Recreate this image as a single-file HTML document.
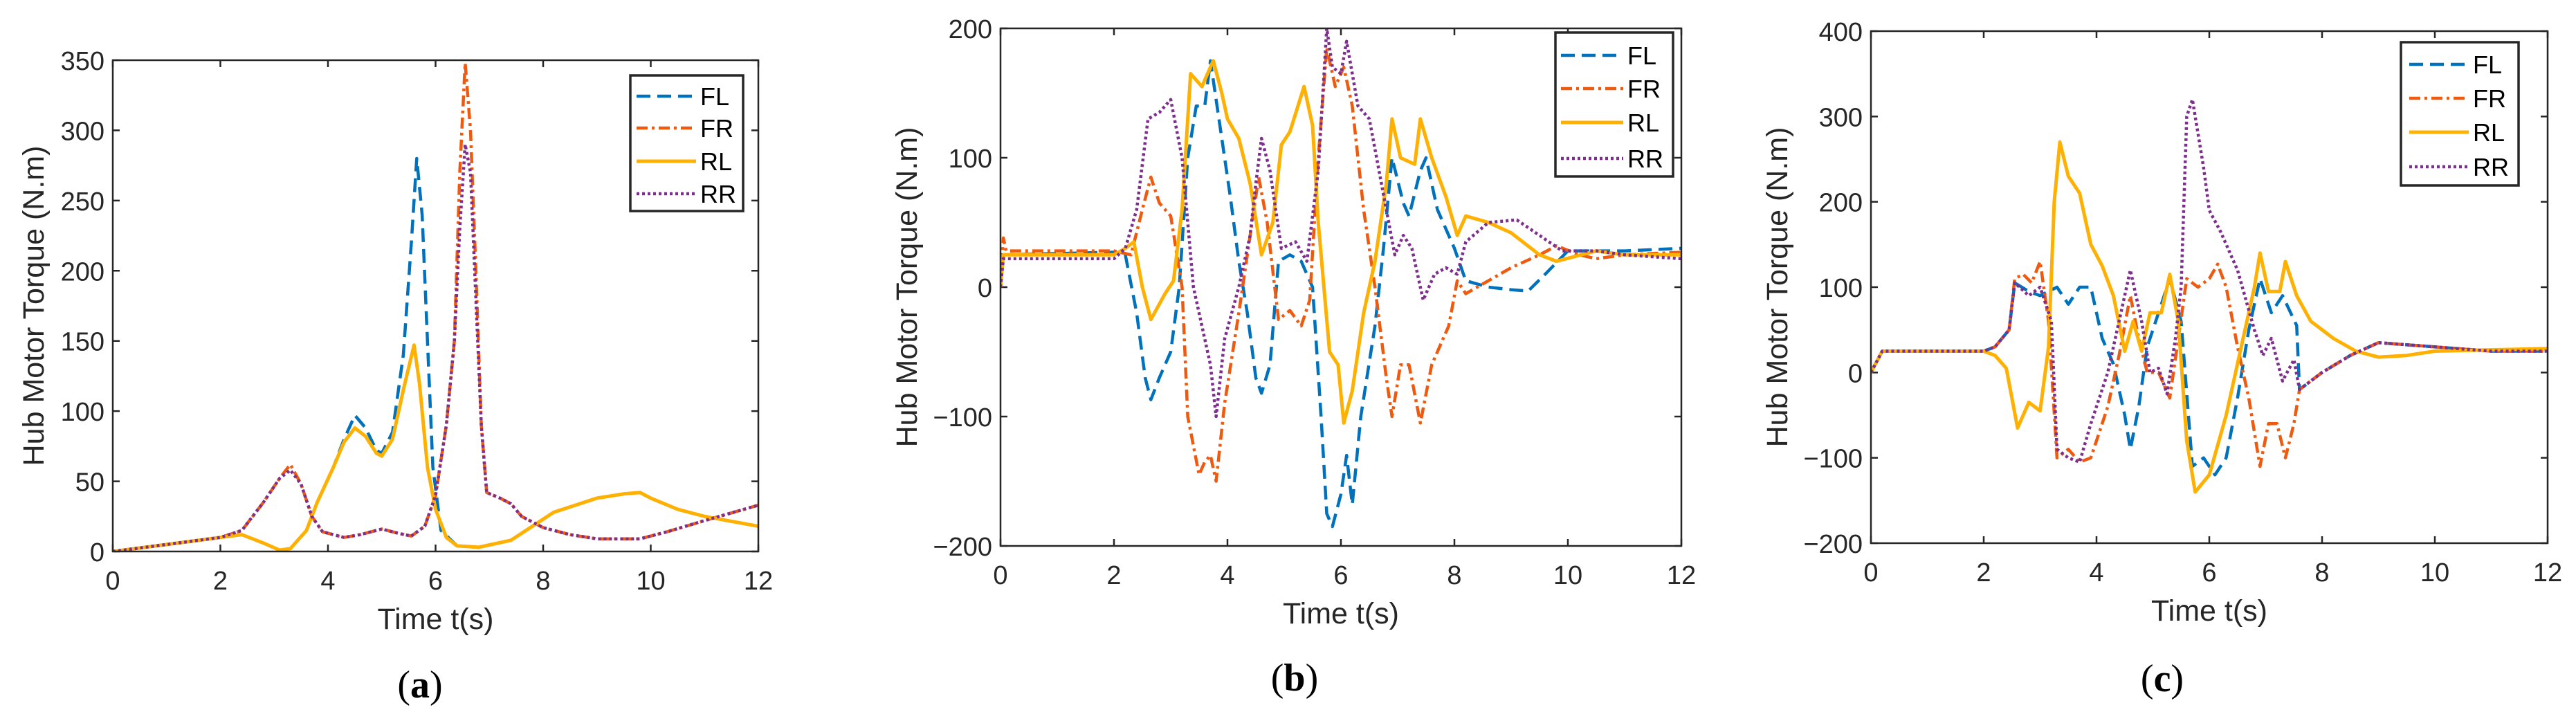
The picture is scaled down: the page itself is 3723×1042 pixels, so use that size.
<!DOCTYPE html>
<html><head><meta charset="utf-8"><style>
body{margin:0;background:#fff;}
svg{display:block;font-family:"Liberation Sans",sans-serif;}
</style></head><body>
<svg id="fig" width="3723" height="1042" viewBox="0 0 3723 1042" xmlns="http://www.w3.org/2000/svg"></svg>
<script>
// ---- Panel (a) data ----
const aFLt=[0,1,2,2.4,2.8,3.1,3.3,3.6,3.8,4.1,4.3,4.5,4.7,4.9,5.0,5.2,5.4,5.55,5.65,5.75,5.85,5.95,6.1,6.4,6.8,7.4,7.8,8.2,9,9.5,9.8,10,10.5,11,12];
const aFLv=[0,5,10,12,6,1,2,15,35,60,80,97,88,72,70,85,140,220,280,240,150,60,15,4,3,8,18,28,38,41,42,38,30,25,18];
const aFRt=[0,1,2,2.4,2.8,3.1,3.3,3.5,3.7,3.9,4.3,4.6,5.0,5.3,5.55,5.8,6.0,6.2,6.35,6.45,6.55,6.65,6.75,6.85,6.95,7.2,7.4,7.6,8,8.5,9,9.8,10.3,11,12];
const aFRv=[0,5,10,15,35,52,62,48,25,14,10,12,16,13,11,18,40,90,150,270,348,300,200,90,42,38,34,25,17,12,9,9,14,22,33];
const aRLt=[0,1,2,2.4,2.8,3.1,3.3,3.6,3.8,4.1,4.3,4.5,4.7,4.9,5.0,5.2,5.4,5.6,5.7,5.85,6.0,6.2,6.4,6.8,7.4,7.8,8.2,9,9.5,9.8,10,10.5,11,12];
const aRLv=[0,5,10,12,6,1,2,15,35,60,78,88,82,70,68,80,115,147,120,60,30,10,4,3,8,18,28,38,41,42,38,30,25,18];
const aRRt=[0,1,2,2.4,2.8,3.1,3.3,3.5,3.7,3.9,4.3,4.6,5.0,5.3,5.55,5.8,6.0,6.2,6.35,6.45,6.55,6.65,6.75,6.85,6.95,7.2,7.4,7.6,8,8.5,9,9.8,10.3,11,12];
const aRRv=[0,5,10,15,35,52,58,48,25,14,10,12,16,13,11,18,40,90,150,230,290,270,180,90,42,38,34,25,17,12,9,9,14,22,33];
const aYTicks=[0,50,100,150,200,250,300,350];
// ---- Panel (b) data ----
const bFLt=[0,2,2.2,2.4,2.55,2.65,2.8,3.0,3.15,3.3,3.45,3.6,3.7,3.8,3.95,4.05,4.2,4.35,4.5,4.6,4.75,4.9,5.1,5.3,5.5,5.65,5.75,5.85,6.0,6.1,6.2,6.35,6.6,6.75,6.9,7.1,7.2,7.4,7.5,7.7,8,8.2,8.6,9,9.3,9.6,10,11,12];
const bFLv=[25,27,25,-20,-70,-87,-70,-50,0,100,140,140,175,145,100,70,20,-20,-70,-82,-60,20,25,20,0,-100,-175,-185,-160,-130,-168,-100,-30,30,100,65,55,90,100,60,30,5,0,-2,-3,10,28,28,30];
const bFRt=[0,0.05,0.1,2,2.3,2.5,2.65,2.8,3.0,3.2,3.3,3.5,3.6,3.7,3.8,3.95,4.2,4.4,4.55,4.7,4.9,5.1,5.3,5.45,5.6,5.75,5.9,6.05,6.2,6.4,6.6,6.8,6.9,7.05,7.2,7.4,7.6,7.9,8.05,8.2,8.6,9,9.5,9.8,10.2,10.5,11,12];
const bFRv=[0,38,28,28,25,60,85,65,55,0,-100,-145,-135,-130,-150,-90,-20,40,85,50,-25,-18,-30,-10,100,185,155,170,140,60,0,-70,-100,-60,-60,-105,-60,-30,5,-5,5,15,25,32,25,22,25,27];
const bRLt=[0,0.05,2,2.2,2.35,2.5,2.65,2.9,3.05,3.2,3.35,3.55,3.75,3.9,4.0,4.2,4.4,4.6,4.8,4.95,5.1,5.35,5.5,5.6,5.8,5.95,6.05,6.2,6.4,6.6,6.8,6.9,7.05,7.3,7.4,7.6,7.85,8.05,8.2,8.6,9,9.5,9.8,10.5,11,12];
const bRLv=[0,25,25,30,35,0,-25,-5,5,60,165,155,175,150,130,115,80,25,50,110,120,155,125,50,-50,-60,-105,-80,-20,20,80,130,100,95,130,100,70,40,55,50,42,25,20,28,25,25];
const bRRt=[0,0.05,2,2.2,2.4,2.6,2.8,3.0,3.2,3.4,3.55,3.7,3.8,3.95,4.2,4.4,4.5,4.6,4.75,4.95,5.2,5.4,5.6,5.75,5.85,6.0,6.1,6.3,6.5,6.8,6.95,7.1,7.25,7.45,7.65,7.85,8.05,8.2,8.6,9.1,9.5,9.9,10.5,11,12];
const bRRv=[0,22,22,30,60,130,135,145,100,0,-30,-60,-100,-40,0,40,80,115,90,30,35,20,90,200,170,165,190,140,130,60,25,40,30,-10,10,15,10,35,50,52,40,28,28,25,22];
const bYTicks=[-200,-100,0,100,200];
// ---- Panel (c) data ----
const cFLt=[0,0.2,2,2.2,2.45,2.55,2.8,3.0,3.3,3.5,3.7,3.9,4.1,4.3,4.5,4.6,4.75,4.9,5.1,5.3,5.5,5.7,5.9,6.1,6.3,6.5,6.7,6.9,7.1,7.3,7.55,7.6,8,8.5,9,10,11,12];
const cFLv=[0,25,25,30,50,105,95,90,100,80,100,100,40,10,-50,-90,-40,30,70,110,60,-110,-100,-120,-100,-30,50,110,70,90,55,-20,0,20,35,30,25,25];
const cFRt=[0,0.2,2,2.2,2.45,2.55,2.7,2.85,3.0,3.15,3.3,3.5,3.7,3.9,4.2,4.4,4.6,4.75,4.9,5.1,5.3,5.45,5.6,5.8,6.0,6.15,6.3,6.5,6.7,6.9,7.05,7.2,7.35,7.5,7.6,8,8.5,9,10,11,12];
const cFRv=[0,25,25,30,50,110,115,105,130,60,-100,-90,-105,-100,-40,20,90,40,0,0,-30,40,110,100,110,127,100,30,-30,-110,-60,-60,-100,-60,-20,0,20,35,30,25,25];
const cRLt=[0,0.2,2,2.2,2.4,2.6,2.8,3.0,3.15,3.25,3.35,3.5,3.7,3.9,4.1,4.3,4.5,4.65,4.8,4.95,5.15,5.3,5.45,5.6,5.75,6.0,6.3,6.6,6.8,6.9,7.05,7.25,7.35,7.55,7.8,8.2,8.6,9,9.5,10,12];
const cRLv=[0,25,25,20,5,-65,-35,-45,30,200,270,230,210,150,125,90,25,60,25,70,70,115,60,-80,-140,-120,-50,40,100,140,95,95,130,90,60,40,25,18,20,25,28];
const cRRt=[0,0.2,2,2.2,2.45,2.55,2.8,3.0,3.2,3.3,3.5,3.7,3.9,4.2,4.4,4.6,4.8,4.95,5.1,5.25,5.4,5.5,5.6,5.7,5.9,6.0,6.2,6.5,6.8,6.95,7.1,7.3,7.5,7.6,8,8.5,9,10,11,12];
const cRRv=[0,25,25,30,50,105,90,100,60,-90,-100,-105,-60,0,60,120,60,0,5,-25,40,100,300,320,240,190,165,120,50,20,40,-10,15,-20,0,20,35,30,25,25];
const cYTicks=[-200,-100,0,100,200,300,400];
const xTicks=[0,2,4,6,8,10,12];
const seriesNames=['FL','FR','RL','RR'];

const NS='http://www.w3.org/2000/svg';
const svg=document.getElementById('fig');
const colors={FL:'#0072BD',FR:'#F05A0F',RL:'#FFB000',RR:'#7E2F8E'};
const dashes={FL:'20,10',FR:'16,6,4,6',RL:'',RR:'4,4'};
function mk(tag,attrs,parent){const e=document.createElementNS(NS,tag);for(const k in attrs)e.setAttribute(k,attrs[k]);(parent||svg).appendChild(e);return e;}

function panel(cfg){
  const g=mk('g',{});
  
  
  const X=t=>cfg.L+(t-0)/12*(cfg.R-cfg.L);
  const Y=v=>cfg.B-(v-cfg.ymin)/(cfg.ymax-cfg.ymin)*(cfg.B-cfg.T);
  const clip=mk('clipPath',{id:'clip'+cfg.id},g);
  mk('rect',{x:cfg.L,y:cfg.T,width:cfg.R-cfg.L,height:cfg.B-cfg.T},clip);
  xTicks.forEach(t=>{
    const x=X(t);
    const tk=mk('path',{d:`M${x},${cfg.B}v-10M${x},${cfg.T}v10`,stroke:'#262626','stroke-width':2.5},g);
    
    
    const tl=mk('text',{x:x,y:cfg.B+55,'text-anchor':'middle','font-size':38,fill:'#262626'},g);
    tl.textContent=t;
    
    
  });
  cfg.yticks.forEach(v=>{
    const y=Y(v);
    const tk=mk('path',{d:`M${cfg.L},${y}h10M${cfg.R},${y}h-10`,stroke:'#262626','stroke-width':2.5},g);
    
    
    const tl=mk('text',{x:cfg.L-12,y:y+14,'text-anchor':'end','font-size':38,fill:'#262626'},g);
    tl.textContent=v<0?'\u2212'+(-v):v;
    
    
  });
  const lg=mk('g',{'clip-path':`url(#clip${cfg.id})`},g);
  seriesNames.forEach(n=>{
    const ts=cfg.data[n][0],vs=cfg.data[n][1];
    let d='';ts.forEach((t,i)=>{d+=(i?'L':'M')+X(t).toFixed(1)+','+Y(vs[i]).toFixed(1);});
    const p=mk('path',{d:d,fill:'none',stroke:colors[n],'stroke-width':n==='RL'?5:4.5,'stroke-dasharray':dashes[n],'stroke-linejoin':'round'},lg);
    
    
  });
  const box=mk('rect',{x:cfg.L,y:cfg.T,width:cfg.R-cfg.L,height:cfg.B-cfg.T,fill:'none',stroke:'#262626','stroke-width':2.5},g);
  
  
  const lgd=mk('g',{},g);
  
  
  mk('rect',{x:cfg.lg.x,y:cfg.lg.y,width:cfg.lg.w,height:cfg.lg.h,fill:'#fff',stroke:'#262626','stroke-width':3.5},lgd);
  seriesNames.forEach((n,i)=>{
    const y=cfg.lg.rows[i];
    const e=mk('g',{},lgd);
    
    
    mk('line',{x1:cfg.lg.l1,x2:cfg.lg.l2,y1:y,y2:y,stroke:colors[n],'stroke-width':n==='RL'?5:4.5,'stroke-dasharray':dashes[n]},e);
    const t=mk('text',{x:cfg.lg.tx,y:y+13,'font-size':36,fill:'#000'},e);
    t.textContent=n;
  });
  const xl=mk('text',{x:(cfg.L+cfg.R)/2,y:cfg.B+112,'text-anchor':'middle','font-size':43,fill:'#262626'},g);
  xl.textContent='Time t(s)';
  
  
  const yl=mk('text',{x:0,y:0,'text-anchor':'middle','font-size':43,fill:'#262626',transform:`translate(${cfg.ylx},${(cfg.T+cfg.B)/2}) rotate(-90)`},g);
  yl.textContent='Hub Motor Torque (N.m)';
  
  
  const cap=mk('text',{x:cfg.capx,y:cfg.capy,'text-anchor':'middle','font-size':56,'font-family':'"Liberation Serif",serif',fill:'#000'},g);
  cap.innerHTML='(<tspan font-weight="bold">'+cfg.id+'</tspan>)';
  
  
}

panel({id:'a',L:163,R:1096,T:87,B:797,ymin:0,ymax:350,yticks:aYTicks,ylx:63,capx:607,capy:1008,
  data:{FL:[aFLt,aFLv],FR:[aFRt,aFRv],RL:[aRLt,aRLv],RR:[aRRt,aRRv]},
  lg:{x:911,y:109,w:163,h:196,rows:[139,185,233,280],l1:920,l2:1006,tx:1012}});
panel({id:'b',L:1446,R:2430,T:41,B:789,ymin:-200,ymax:200,yticks:bYTicks,ylx:1325,capx:1871,capy:998,
  data:{FL:[bFLt,bFLv],FR:[bFRt,bFRv],RL:[bRLt,bRLv],RR:[bRRt,bRRv]},
  lg:{x:2248,y:47,w:170,h:208,rows:[80,128,177,229],l1:2256,l2:2346,tx:2352}});
panel({id:'c',L:2704,R:3682,T:45,B:785,ymin:-200,ymax:400,yticks:cYTicks,ylx:2583,capx:3125,capy:999,
  data:{FL:[cFLt,cFLv],FR:[cFRt,cFRv],RL:[cRLt,cRLv],RR:[cRRt,cRRv]},
  lg:{x:3470,y:61,w:170,h:207,rows:[93,142,191,241],l1:3482,l2:3568,tx:3574}});
</script>
</body></html>
